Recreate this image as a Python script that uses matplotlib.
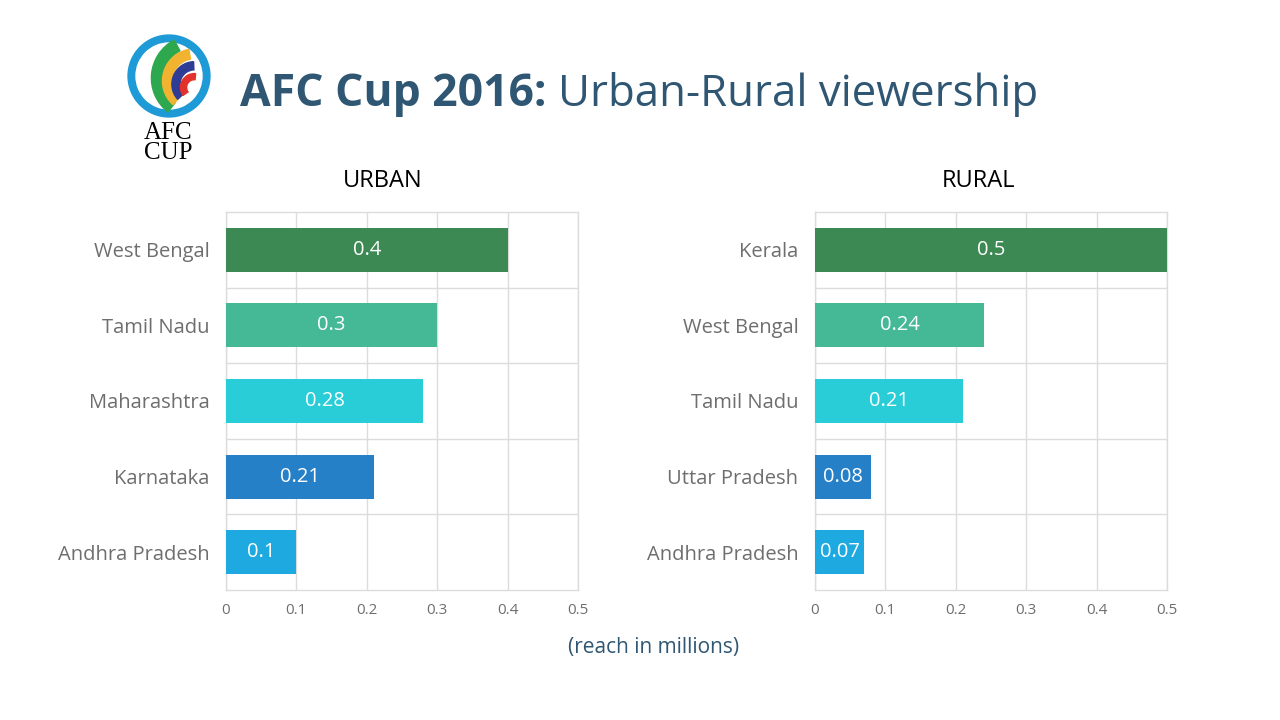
import numpy as np
import matplotlib.pyplot as plt
from matplotlib.patches import Wedge

plt.rcParams['font.family'] = ['Open Sans', 'DejaVu Sans']

# data
urban_states = ['West Bengal', 'Tamil Nadu', 'Maharashtra', 'Karnataka', 'Andhra Pradesh']
urban_reach = [0.4, 0.3, 0.28, 0.21, 0.1]
rural_states = ['Kerala', 'West Bengal', 'Tamil Nadu', 'Uttar Pradesh', 'Andhra Pradesh']
rural_reach = [0.5, 0.24, 0.21, 0.08, 0.07]
x_ticks = [0, 0.1, 0.2, 0.3, 0.4, 0.5]

bar_colors = ['#3d8953', '#45b996', '#29cdd8', '#2680c8', '#1eaae1']
title_color = '#2f5672'
label_grey = '#6e6e6e'
grid_grey = '#dcdcdc'

W, H = 1280, 720
fig = plt.figure(figsize=(W / 100, H / 100), dpi=100)


def px_box(x0, y0, x1, y1):
    return [x0 / W, 1 - y1 / H, (x1 - x0) / W, (y1 - y0) / H]


def draw_panel(ax, states, reach):
    y = np.arange(len(states))
    ax.barh(y, reach, height=0.58, color=bar_colors, zorder=3)
    for yi, v in zip(y, reach):
        ax.text(v / 2, yi, f'{v:g}', ha='center', va='center',
                color='white', fontsize=14.5, zorder=4)
    ax.set_xlim(0, 0.5)
    ax.set_ylim(len(states) - 0.5, -0.5)
    ax.set_yticks(y)
    ax.set_yticklabels(states, fontsize=14.5, color=label_grey)
    ax.set_xticks(x_ticks)
    ax.set_xticklabels([f'{t:g}' for t in x_ticks], fontsize=11, color=label_grey)
    ax.set_yticks(np.arange(0.5, len(states) - 0.5, 1), minor=True)
    ax.grid(axis='x', color=grid_grey, linewidth=1, zorder=1)
    ax.grid(axis='y', which='minor', color=grid_grey, linewidth=1, zorder=1)
    ax.tick_params(axis='both', which='both', length=0)
    ax.tick_params(axis='y', pad=12)
    ax.tick_params(axis='x', pad=9)
    for s in ax.spines.values():
        s.set_color(grid_grey)
        s.set_linewidth(1)
    ax.set_axisbelow(True)


ax_u = fig.add_axes(px_box(226, 212, 578, 590))
draw_panel(ax_u, urban_states, urban_reach)
ax_r = fig.add_axes(px_box(815, 212, 1167, 590))
draw_panel(ax_r, rural_states, rural_reach)

fig.text(383 / W, 1 - 181 / H, 'URBAN', ha='center', va='center', fontsize=17, color='black')
fig.text(978 / W, 1 - 181 / H, 'RURAL', ha='center', va='center', fontsize=17, color='black')

# title, bold part followed by regular part
renderer = fig.canvas.get_renderer()
t1 = fig.text(240 / W, 1 - 106 / H, 'AFC Cup 2016:', fontsize=32, fontweight='bold',
              color=title_color, va='baseline')
bb = t1.get_window_extent(renderer=renderer)
fig.text((bb.x1 + 12) / W, 1 - 106 / H, 'Urban-Rural viewership', fontsize=31.5,
         color=title_color, va='baseline')

fig.text(654 / W, 1 - 648 / H, '(reach in millions)', ha='center', va='center',
         fontsize=15, color=title_color)

# rough AFC Cup logo
lg = fig.add_axes(px_box(126, 33, 212, 119))
lg.set_xlim(-1.05, 1.05)
lg.set_ylim(-1.05, 1.05)
lg.set_aspect('equal')
lg.axis('off')
lg.add_patch(Wedge((0, 0), 1.0, 40, 400, width=0.16, color='#1e9ad6'))
lg.add_patch(Wedge((0.62, -0.05), 1.05, 118, 232, width=0.3, color='#2ea84e'))
lg.add_patch(Wedge((0.62, -0.12), 0.78, 100, 228, width=0.24, color='#f2b331'))
lg.add_patch(Wedge((0.62, -0.2), 0.55, 92, 222, width=0.2, color='#2e3c96'))
lg.add_patch(Wedge((0.62, -0.28), 0.34, 85, 215, width=0.15, color='#e3322b'))
fig.text(168 / W, 1 - 133 / H, 'AFC', ha='center', va='center', fontsize=18,
         family='Liberation Serif', color='black')
fig.text(168 / W, 1 - 153 / H, 'CUP', ha='center', va='center', fontsize=18,
         family='Liberation Serif', color='black')

fig.savefig('out.png', dpi=100)
